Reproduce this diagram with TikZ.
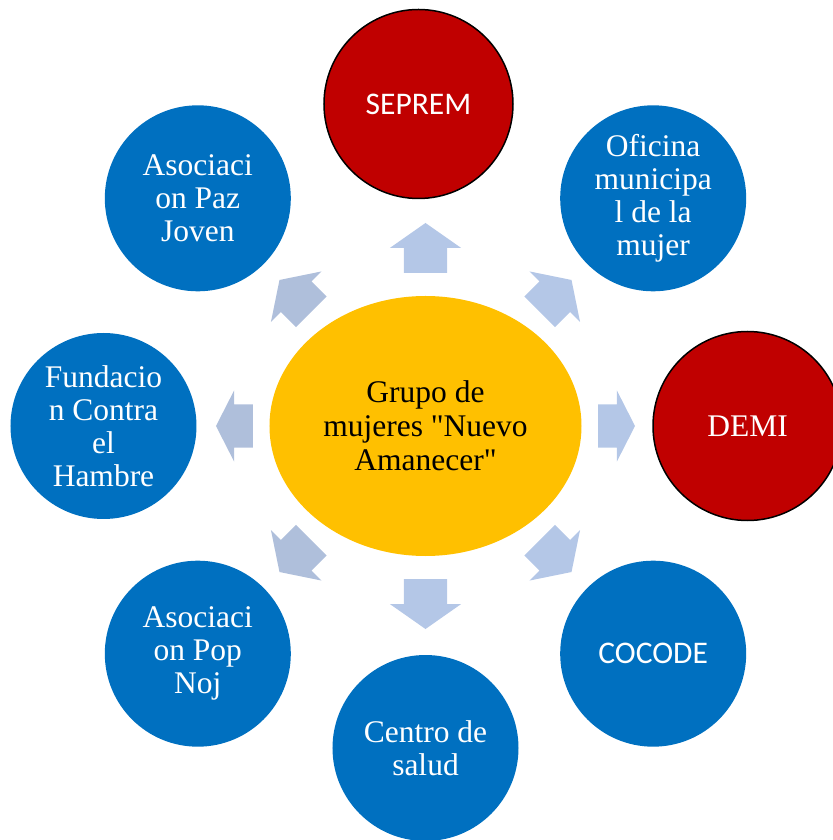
\documentclass[tikz,border=0pt]{standalone}
\usepackage{fontspec}
\setmainfont{Liberation Serif}
\newfontfamily\carlito{Carlito}
\usetikzlibrary{shapes.arrows}
\definecolor{orgblue}{HTML}{0070C0}
\definecolor{orgred}{HTML}{C00000}
\definecolor{hubyellow}{HTML}{FFC000}
\definecolor{flowlight}{HTML}{B4C7E7}
\definecolor{flowgrey}{HTML}{AFBFDB}
\tikzset{
  org/.style={circle, minimum size=186pt, inner sep=0pt, align=center,
    text=white, font=\fontsize{31.5}{33}\selectfont},
  blueorg/.style={org, fill=orgblue},
  redorg/.style={org, fill=orgred, draw=black, line width=1.5pt, minimum size=189pt},
  hub/.style={ellipse, minimum width=312pt, minimum height=260pt, inner sep=0pt,
    fill=hubyellow, align=center, font=\fontsize{31.5}{34}\selectfont},
  flow/.style={single arrow, anchor=tail, inner xsep=0pt, inner ysep=21.5pt, outer sep=0pt,
    single arrow head extend=14pt, fill=flowlight, draw=none}
}
\usetikzlibrary{shapes.geometric}
\begin{document}
\begin{tikzpicture}[x=1pt,y=1pt]
      \useasboundingbox (-425.5,-414) rectangle (406.5,426);
      \node[hub] (0) at (0,0) {Grupo de\\mujeres \textquotedbl Nuevo\\Amanecer\textquotedbl};
      \draw
        (90:322) node[redorg, xshift=-7pt] (1){\carlito SEPREM}
        (45:322) node[blueorg] (2){Oficina\\municipa\\l de la\\mujer}
        (0:322) node[redorg] (3){DEMI}
        (-45:322) node[blueorg] (4){\carlito COCODE}
        (-90:322) node[blueorg] (5){Centro de\\salud}
        (-135:322) node[blueorg] (6){Asociaci\\on Pop\\Noj}
        (180:322) node[blueorg] (7){Fundacio\\n Contra\\el\\Hambre}
        (135:322) node[blueorg] (8){Asociaci\\on Paz\\Joven};
      \begin{scope}[flow]
        \node[flow, rotate=90, minimum height=50pt, single arrow tip angle=110] (a1) at (90:153) {};
        \node[flow, rotate=45, minimum height=45pt, single arrow tip angle=113] (a2) at (45:161.5) {};
        \node[flow, rotate=0, minimum height=37pt, single arrow tip angle=126] (a3) at (0:172.5) {};
        \node[flow, rotate=-45, minimum height=45pt, single arrow tip angle=113] (a4) at (-45:161.5) {};
        \node[flow, rotate=-90, minimum height=50pt, single arrow tip angle=110] (a5) at (-90:153) {};
        \node[flow, rotate=-135, minimum height=45pt, single arrow tip angle=113, fill=flowgrey] (a6) at (-135:161.5) {};
        \node[flow, rotate=180, minimum height=37pt, single arrow tip angle=126, fill=flowgrey] (a7) at (180:172.5) {};
        \node[flow, rotate=135, minimum height=45pt, single arrow tip angle=113, fill=flowgrey] (a8) at (135:161.5) {};
      \end{scope}
    \end{tikzpicture}
\end{document}
